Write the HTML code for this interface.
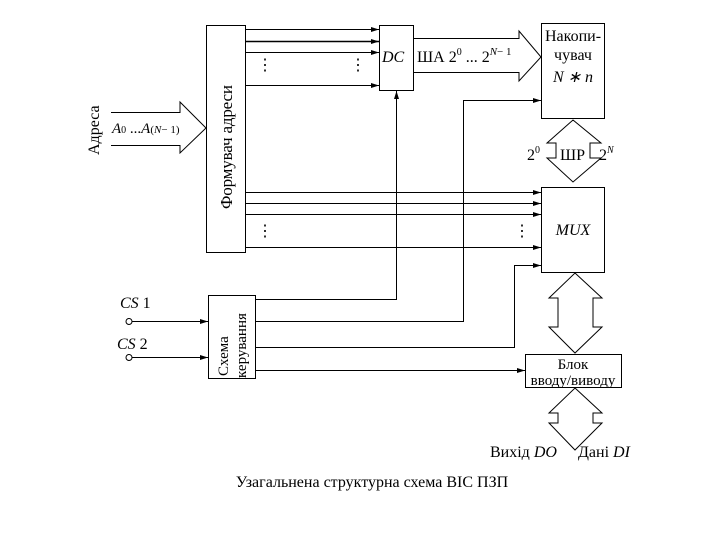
<!DOCTYPE html>
<html><head><meta charset="utf-8"><style>
body{margin:0;background:#fff}
svg{display:block}
text{font-family:"Liberation Serif",serif;fill:#000}
.i{font-style:italic}
</style></head><body>
<svg width="720" height="540" viewBox="0 0 720 540" xmlns="http://www.w3.org/2000/svg">
<defs><marker id="a" markerWidth="8" markerHeight="6" refX="8" refY="3" orient="auto" markerUnits="userSpaceOnUse"><path d="M0,0.5 L8,3 L0,5.5 Z" fill="#000"/></marker></defs>
<g fill="none" stroke="#000" stroke-width="1">
<rect x="206.5" y="25.5" width="39" height="227"/>
<rect x="379.5" y="25.5" width="34" height="65"/>
<rect x="541.5" y="23.5" width="63" height="95"/>
<rect x="541.5" y="187.5" width="63" height="85"/>
<rect x="208.5" y="295.5" width="47" height="83"/>
<rect x="525.5" y="354.5" width="96" height="33"/>
<g marker-end="url(#a)">
<line x1="246" y1="29.5" x2="379" y2="29.5"/>
<line x1="246" y1="41.5" x2="379" y2="41.5" stroke-width="1.6"/>
<line x1="246" y1="52.5" x2="379" y2="52.5"/>
<line x1="246" y1="85.5" x2="379" y2="85.5"/>
<line x1="246" y1="192.5" x2="541" y2="192.5"/>
<line x1="246" y1="203.5" x2="541" y2="203.5"/>
<line x1="246" y1="214.5" x2="541" y2="214.5"/>
<line x1="246" y1="247.5" x2="541" y2="247.5"/>
<polyline points="255,299.5 396.5,299.5 396.5,91"/>
<polyline points="255,321.5 463.5,321.5 463.5,100.5 541,100.5"/>
<polyline points="255,347.5 514.5,347.5 514.5,265.5 541,265.5"/>
<line x1="255" y1="370.5" x2="525" y2="370.5"/>
<line x1="132" y1="321.5" x2="208" y2="321.5"/>
<line x1="132" y1="357.5" x2="208" y2="357.5"/>
</g>
<circle cx="129" cy="321.5" r="3"/>
<circle cx="129" cy="357.5" r="3"/>
<polyline points="111,112.5 180,112.5 180,102 206,128 180,153 180,145.5 111,145.5"/>
<polyline points="413,38.5 519,38.5 519,31 541,57 519,81 519,72.5 413,72.5"/>
<polygon points="573,120 601,143 590,143 590,158 601,158 573,182 547,158 556,158 556,143 547,143"/>
<polygon points="575,273 602,298 593,298 593,327 602,327 575,353 549,327 558,327 558,298 549,298"/>
<polygon points="575,388 602,413 593,413 593,423 602,423 575,450 549,423 558,423 558,413 549,413"/>
</g>
<g font-size="16">
<text x="257" y="70">⋮</text><text x="350" y="70">⋮</text>
<text x="257" y="236">⋮</text><text x="514" y="236">⋮</text>
</g>
<text transform="translate(99,155) rotate(-90)" font-size="16">Адреса</text>
<text transform="translate(232,209) rotate(-90)" font-size="17" textLength="124" lengthAdjust="spacing">Формувач адреси</text>
<text transform="translate(228,376) rotate(-90)" font-size="15">Схема</text>
<text transform="translate(246,378) rotate(-90)" font-size="15">керування</text>
<text x="112" y="133" font-size="15"><tspan class="i">A</tspan><tspan font-size="10">0</tspan> ...<tspan class="i">A</tspan><tspan font-size="11">(<tspan class="i">N</tspan>− 1)</tspan></text>
<text x="382" y="62" font-size="16" class="i">DC</text>
<text x="417" y="62" font-size="16">ША  2<tspan font-size="10" dy="-7">0</tspan><tspan dy="7"> ... 2</tspan><tspan font-size="11" dy="-7"><tspan class="i">N</tspan>− 1</tspan></text>
<text x="573" y="41" font-size="16" text-anchor="middle">Накопи-</text>
<text x="573" y="60" font-size="16" text-anchor="middle">чувач</text>
<text x="573" y="82" font-size="16" text-anchor="middle" class="i">N ∗ n</text>
<text x="527" y="160" font-size="16">2<tspan font-size="10" dy="-7">0</tspan></text>
<text x="560" y="160" font-size="16">ШР</text>
<text x="599" y="160" font-size="16">2<tspan font-size="10" dy="-7" class="i">N</tspan></text>
<text x="573" y="235" font-size="16" text-anchor="middle" class="i">MUX</text>
<text x="120" y="308" font-size="16"><tspan class="i">CS</tspan> 1</text>
<text x="117" y="349" font-size="16"><tspan class="i">CS</tspan> 2</text>
<text x="573" y="369" font-size="15" text-anchor="middle">Блок</text>
<text x="573" y="385" font-size="15" text-anchor="middle">вводу/виводу</text>
<text x="490" y="457" font-size="16">Вихід <tspan class="i">DO</tspan></text>
<text x="578" y="457" font-size="16">Дані <tspan class="i">DI</tspan></text>
<text x="372" y="487" font-size="16" text-anchor="middle">Узагальнена структурна схема ВІС ПЗП</text>
</svg>
</body></html>
